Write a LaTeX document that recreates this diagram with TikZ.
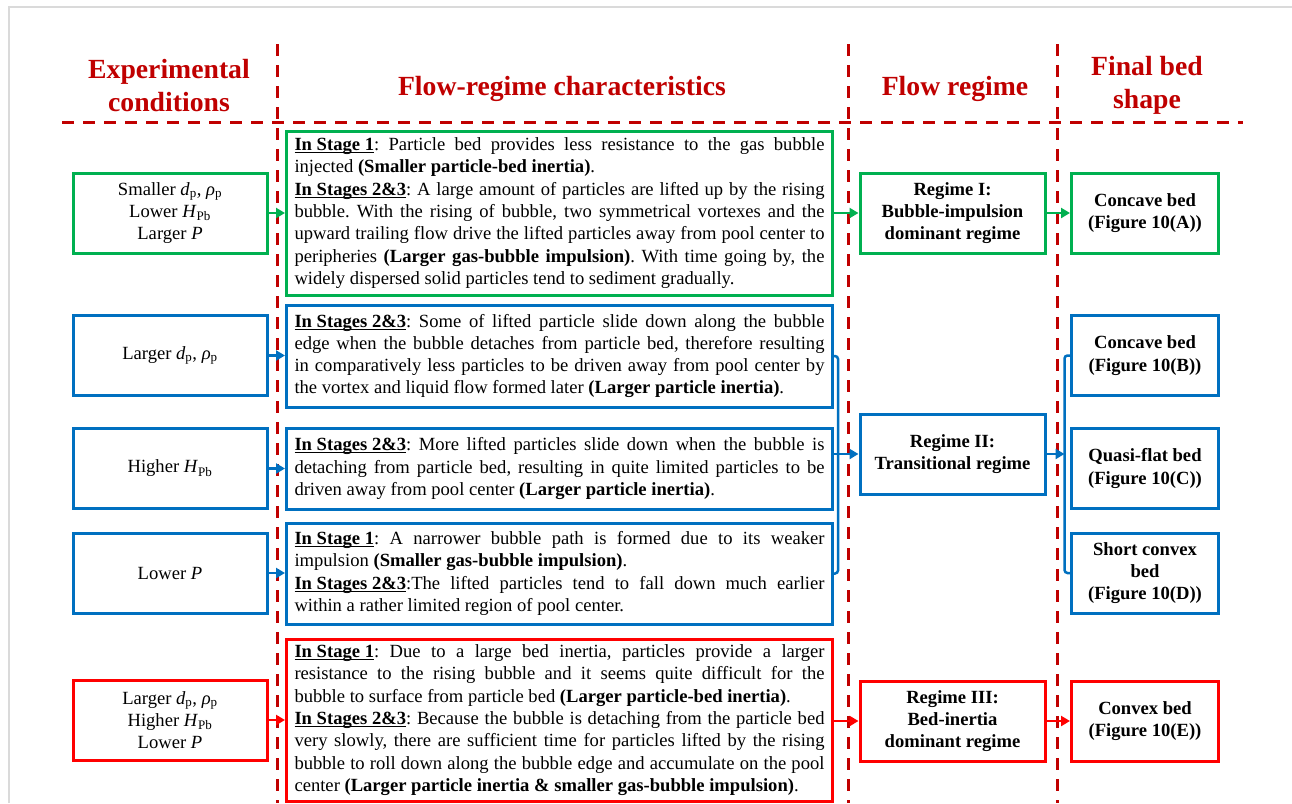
\documentclass[tikz,border=0pt]{standalone}
\usepackage{fontspec}
\setmainfont{Liberation Serif}
\usepackage{tikz}
\usetikzlibrary{arrows.meta}
\definecolor{hdrred}{RGB}{192, 0, 0}
\definecolor{boxgreen}{RGB}{0, 176, 80}
\definecolor{boxblue}{RGB}{0, 112, 192}
\definecolor{boxred}{RGB}{255, 0, 0}
\definecolor{framegray}{RGB}{218, 218, 218}
\newcommand{\bodysize}{\fontsize{18.6}{22.3}\selectfont}
\newcommand{\hdrsize}{\fontsize{27.7}{33}\selectfont}
\newsavebox{\stagebox}
\newcommand{\stagehead}[1]{\leavevmode\sbox{\stagebox}{\textbf{#1}}\rlap{\rule[-2.6pt]{\wd\stagebox}{1pt}}\usebox{\stagebox}}
\hyphenpenalty=10000
\exhyphenpenalty=10000
\frenchspacing

\begin{document}
\begin{tikzpicture}[x=1pt, y=-1pt,
	hdr/.style={text=hdrred, font=\hdrsize\bfseries, align=center},
	divline/.style={hdrred, line width=3pt, dash pattern=on 12pt off 9pt},
	condbox/.style={draw, line width=3pt, minimum width=194pt, minimum height=80pt, align=center, font=\bodysize},
	charbox/.style={draw, line width=3pt, text width=530pt, inner xsep=8pt, inner ysep=2pt, align=justify, font=\bodysize},
	regbox/.style={draw, line width=3pt, minimum width=185pt, minimum height=80pt, align=center, font=\bodysize\bfseries},
	bedbox/.style={draw, line width=3pt, minimum width=147pt, minimum height=80pt, align=center, font=\bodysize\bfseries},
	link/.style={line width=2.5pt, -{Triangle[length=9pt, width=10pt]}}]
	\useasboundingbox (0,0) rectangle (1292,803);
	\fill[white] (0,0) rectangle (1292,803);
	% frame
	\draw[framegray, line width=1.2pt] (9,803) -- (9,7) -- (1292,7);

	% column headers
	\node[hdr] (hcond) at (169,86) {Experimental\\conditions};
	\node[hdr] (hchar) at (562,89) {Flow-regime characteristics};
	\node[hdr] (hreg) at (955,89) {Flow regime};
	\node[hdr] (hbed) at (1147,85) {Final bed\\shape};

	% dashed dividers
	\draw[divline] (62,122) -- (1243,122);
	\foreach \x in {277,848,1057} {
		\draw[divline] (\x,44) -- (\x,803);
	}

	% experimental conditions
	\node[condbox, boxgreen] (cond1) at (170,213) {\color{black}Smaller \textit{d}\textsubscript{p}, \textit{ρ}\textsubscript{p}\\\color{black}Lower \textit{H}\textsubscript{Pb}\\\color{black}Larger \textit{P}};
	\node[condbox, boxblue] (cond2) at (170,355.5) {\color{black}Larger \textit{d}\textsubscript{p}, \textit{ρ}\textsubscript{p}};
	\node[condbox, boxblue] (cond3) at (170,468.5) {\color{black}Higher \textit{H}\textsubscript{Pb}};
	\node[condbox, boxblue] (cond4) at (170,573) {\color{black}Lower \textit{P}};
	\node[condbox, boxred] (cond5) at (170,720) {\color{black}Larger \textit{d}\textsubscript{p}, \textit{ρ}\textsubscript{p}\\\color{black}Higher \textit{H}\textsubscript{Pb}\\\color{black}Lower \textit{P}};

	% flow-regime characteristics
	\node[charbox, boxgreen, minimum height=164pt, text=black] (char1) at (559.5,213) {%
		\stagehead{In Stage 1}: Particle bed provides less resistance to the gas bubble\linebreak
		injected \textbf{(Smaller particle-bed inertia)}.\par
		\stagehead{In Stages 2\&3}: A large amount of particles are lifted up by the rising\linebreak
		bubble. With the rising of bubble, two symmetrical vortexes and the\linebreak
		upward trailing flow drive the lifted particles away from pool center to\linebreak
		peripheries \textbf{(Larger gas-bubble impulsion)}. With time going by, the\linebreak
		widely dispersed solid particles tend to sediment gradually.};
	\node[charbox, boxblue, minimum height=102pt, text=black] (char2) at (559.5,356) {%
		\stagehead{In Stages 2\&3}: Some of lifted particle slide down along the bubble\linebreak
		edge when the bubble detaches from particle bed, therefore resulting\linebreak
		in comparatively less particles to be driven away from pool center by\linebreak
		the vortex and liquid flow formed later \textbf{(Larger particle inertia)}.};
	\node[charbox, boxblue, minimum height=81pt, text=black] (char3) at (559.5,468.5) {%
		\stagehead{In Stages 2\&3}: More lifted particles slide down when the bubble is\linebreak
		detaching from particle bed, resulting in quite limited particles to be\linebreak
		driven away from pool center \textbf{(Larger particle inertia)}.};
	\node[charbox, boxblue, minimum height=101pt, text=black] (char4) at (559.5,573.5) {%
		\stagehead{In Stage 1}: A narrower bubble path is formed due to its weaker\linebreak
		impulsion \textbf{(Smaller gas-bubble impulsion)}.\par
		\stagehead{In Stages 2\&3}:The lifted particles tend to fall down much earlier\linebreak
		within a rather limited region of pool center.};
	\node[charbox, boxred, minimum height=162pt, text=black] (char5) at (559.5,720) {%
		\stagehead{In Stage 1}: Due to a large bed inertia, particles provide a larger\linebreak
		resistance to the rising bubble and it seems quite difficult for the\linebreak
		bubble to surface from particle bed \textbf{(Larger particle-bed inertia)}.\par
		\stagehead{In Stages 2\&3}: Because the bubble is detaching from the particle bed\linebreak
		very slowly, there are sufficient time for particles lifted by the rising\linebreak
		bubble to roll down along the bubble edge and accumulate on the pool\linebreak
		center \textbf{(Larger particle inertia \& smaller gas-bubble impulsion)}.};

	% flow regimes
	\node[regbox, boxgreen, text=black] (reg1) at (952.5,213) {Regime I:\\Bubble-impulsion\\dominant regime};
	\node[regbox, boxblue, text=black] (reg2) at (952.5,454) {Regime II:\\Transitional regime};
	\node[regbox, boxred, text=black] (reg3) at (952.5,721) {Regime III:\\Bed-inertia\\dominant regime};

	% final bed shapes
	\node[bedbox, boxgreen, text=black] (bed1) at (1145,213) {Concave bed\\(Figure 10(A))};
	\node[bedbox, boxblue, text=black] (bed2) at (1145,355.5) {Concave bed\\(Figure 10(B))};
	\node[bedbox, boxblue, text=black] (bed3) at (1145,468.5) {Quasi-flat bed\\(Figure 10(C))};
	\node[bedbox, boxblue, text=black] (bed4) at (1145,573) {Short convex\\bed\\(Figure 10(D))};
	\node[bedbox, boxred, text=black] (bed5) at (1145,721) {Convex bed\\(Figure 10(E))};

	% connectors
	\foreach \i/\c in {1/boxgreen,2/boxblue,3/boxblue,4/boxblue,5/boxred} {
		\draw[link, \c] (cond\i.east) -- (cond\i.east -| char\i.west);
	}
	\draw[link, boxgreen] (char1.east |- reg1) -- (reg1.west);
	\draw[link, boxgreen] (reg1.east) -- (bed1.west);
	\draw[link, boxred] (char5.east |- reg3) -- (reg3.west);
	\draw[link, boxred] (reg3.east) -- (bed5.west);

	\coordinate (joinL) at (838,454);
	\coordinate (joinR) at (1064.5,454);
	\draw[boxblue, line width=2.5pt, rounded corners=3pt] (char2.east) -| (joinL) |- (char4.east);
	\draw[link, boxblue] (char3.east |- reg2) -- (reg2.west);
	\draw[boxblue, line width=2.5pt, rounded corners=3pt] (bed2.west) -| (joinR) |- (bed4.west);
	\draw[link, boxblue] (reg2.east) -- (joinR);
\end{tikzpicture}
\end{document}
